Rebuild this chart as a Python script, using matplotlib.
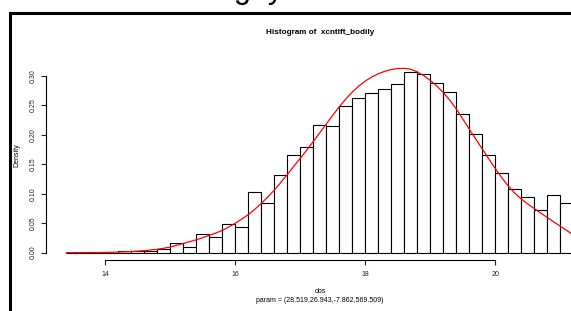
import matplotlib
matplotlib.use("Agg")
import matplotlib.pyplot as plt
from matplotlib.lines import Line2D
import numpy as np

plt.rcParams['font.family'] = ['Liberation Sans', 'DejaVu Sans']

# DATA

# histogram breaks (width 0.2) and densities
bin_edges = [round(13.4 + 0.2 * i, 1) for i in range(40)]
densities = [0.0, 0.0, 0.0, 0.0,
             0.0034, 0.0024, 0.0034, 0.0058, 0.016,
             0.0102, 0.0311, 0.026, 0.048, 0.0435,
             0.1034, 0.0848, 0.131, 0.165, 0.1797,
             0.2164, 0.214, 0.249, 0.263, 0.2707,
             0.278, 0.2865, 0.3068, 0.3034, 0.288,
             0.273, 0.2345, 0.201, 0.166, 0.135,
             0.108, 0.0938, 0.0718, 0.0972, 0.0837]

# fitted curve
curve_x = [13.4, 13.6, 13.8, 14.0, 14.2, 14.4, 14.6, 14.8, 14.9,
           15.0, 15.1, 15.2, 15.3, 15.4, 15.5, 15.6, 15.7, 15.8, 15.9,
           16.0, 16.1, 16.2, 16.3, 16.4, 16.5, 16.6, 16.7, 16.8, 16.9,
           17.0, 17.1, 17.2, 17.3, 17.4, 17.5, 17.6, 17.7, 17.8, 17.9,
           18.0, 18.1, 18.2, 18.3, 18.4, 18.5, 18.6, 18.7, 18.8, 18.9,
           19.0, 19.1, 19.2, 19.3, 19.4, 19.5, 19.6, 19.7, 19.8, 19.9,
           20.0, 20.1, 20.2, 20.3, 20.4, 20.5, 20.6, 20.7, 20.8, 20.9,
           21.0, 21.1, 21.2]
curve_y = [0.0, 0.0001, 0.0002, 0.0005, 0.001, 0.0019, 0.0034, 0.0058, 0.0075,
           0.0097, 0.0125, 0.0157, 0.0187, 0.0218, 0.0255, 0.0293, 0.0333, 0.0378, 0.0435,
           0.050, 0.057, 0.0645, 0.0735, 0.0835, 0.0945, 0.106, 0.119, 0.1325, 0.1465,
           0.160, 0.174, 0.1885, 0.2033, 0.2183, 0.2331, 0.2473, 0.2605, 0.2723, 0.2825,
           0.291, 0.2978, 0.3033, 0.3075, 0.3105, 0.3122, 0.3125, 0.311, 0.3065, 0.300,
           0.292, 0.2825, 0.2715, 0.2585, 0.2435, 0.2265, 0.2095, 0.1925, 0.1757, 0.159,
           0.1425, 0.127, 0.113, 0.101, 0.091, 0.0825, 0.0748, 0.0672, 0.0595, 0.052,
           0.045, 0.0375, 0.030]

x_ticks = [14, 16, 18, 20]
y_ticks = [0.00, 0.05, 0.10, 0.15, 0.20, 0.25, 0.30]

title = "Histogram of  xcntlft_bodily"
x_label = "obs"
sub_label = "param = (28.519,26.943,-7.862,569.509)"


# PLOT

W, H = 571, 311
fig = plt.figure(figsize=(W / 100, H / 100), dpi=100)

def px(x, y):
    return x / W, 1 - y / H

ax = fig.add_axes([46 / W, 51 / H, 547.6 / W, 197.5 / H])
ax.set_xlim(13.088, 21.512)
ax.set_ylim(-0.0124, 0.3224)

widths = np.diff(bin_edges)
ax.bar(bin_edges[:-1], densities, width=widths, align='edge',
       facecolor='white', edgecolor='black', linewidth=0.8)
ax.plot(curve_x, curve_y, color='red', linewidth=0.9, solid_joinstyle='round')

# R-style axes
for s in ['top', 'right']:
    ax.spines[s].set_visible(False)
ax.spines['left'].set_bounds(0, 0.30)
ax.spines['bottom'].set_bounds(14, 20)
ax.spines['left'].set_linewidth(0.8)
ax.spines['bottom'].set_linewidth(0.8)
ax.set_xticks(x_ticks)
ax.set_xticklabels([str(t) for t in x_ticks])
ax.set_yticks(y_ticks)
ax.set_yticklabels(['%.2f' % t for t in y_ticks], rotation=90, va='center')
ax.tick_params(direction='out', length=3.6, width=0.8, labelsize=5, colors='#222222')
ax.tick_params(axis='x', pad=4.0)
ax.tick_params(axis='y', pad=3.2)

# labels
fig.text(*px(320, 32), title, ha='center', va='center', fontsize=5.9, fontweight='bold')
fig.text(*px(17, 155), "Density", ha='center', va='center', rotation=90, fontsize=5)
fig.text(*px(320, 291.5), x_label, ha='center', va='center', fontsize=5)
fig.text(*px(320, 300), sub_label, ha='center', va='center', fontsize=5)

# frame around the plot (cut off at right and bottom)
fig.add_artist(Line2D([10 / W, 10 / W], [1 - 12.5 / H, 0], transform=fig.transFigure,
                      color='black', linewidth=2.2, solid_capstyle='projecting'))
fig.add_artist(Line2D([10 / W, 1], [1 - 12.5 / H, 1 - 12.5 / H], transform=fig.transFigure,
                      color='black', linewidth=2.2, solid_capstyle='projecting'))

# bottom of a larger heading above the frame, mostly cut off
fig.text(*px(234, -2), "g  y", ha='left', va='baseline', fontsize=22)

fig.savefig("out.png", dpi=100)
